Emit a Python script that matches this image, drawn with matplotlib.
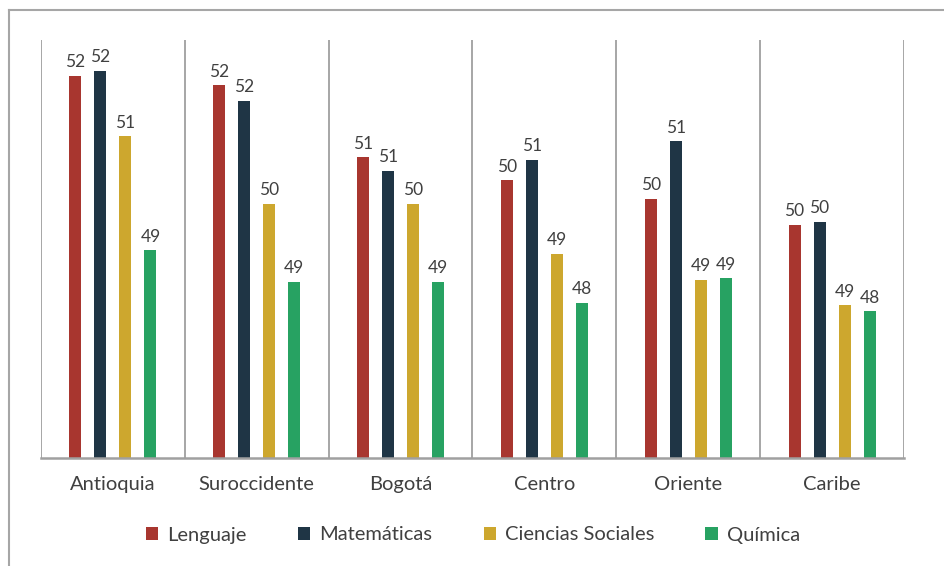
import matplotlib.pyplot as plt
from matplotlib.lines import Line2D
import numpy as np

plt.rcParams['font.family'] = ['Lato', 'DejaVu Sans']

# Datos
regiones = ['Antioquia', 'Suroccidente', 'Bogotá', 'Centro', 'Oriente', 'Caribe']
materias = ['Lenguaje', 'Matemáticas', 'Ciencias Sociales', 'Química']
colores = ['#A8362F', '#1F3545', '#CDA72E', '#27A262']

lenguaje = [52.30, 52.13, 50.82, 50.40, 50.06, 49.59]
matematicas = [52.39, 51.84, 50.57, 50.77, 51.11, 49.64]
sociales = [51.20, 49.97, 49.97, 49.06, 48.59, 48.13]
quimica = [49.13, 48.55, 48.55, 48.17, 48.62, 48.02]

# etiquetas tal como aparecen en el grafico
et_lenguaje = [52, 52, 51, 50, 50, 50]
et_matematicas = [52, 52, 51, 51, 51, 50]
et_sociales = [51, 50, 50, 49, 49, 49]
et_quimica = [49, 49, 49, 48, 49, 48]

series = [lenguaje, matematicas, sociales, quimica]
etiquetas = [et_lenguaje, et_matematicas, et_sociales, et_quimica]

fig = plt.figure(figsize=(9.45, 5.66), dpi=100)
ax = fig.add_axes([41 / 945, 108 / 566, 863 / 945, 418 / 566])

x = np.arange(len(regiones))
ancho = 0.084
desplaz = [-0.261, -0.087, 0.087, 0.261]
base = 45.35

for vals, labs, col, d, nombre in zip(series, etiquetas, colores, desplaz, materias):
    alturas = [v - base for v in vals]
    barras = ax.bar(x + d, alturas, ancho, bottom=base, color=col, label=nombre)
    for b, t in zip(barras, labs):
        ax.annotate(str(t), (b.get_x() + b.get_width() / 2, b.get_y() + b.get_height()),
                    xytext=(0, 4), textcoords='offset points', ha='center', va='bottom',
                    fontsize=12.5, color='#404040')

ax.set_xlim(-0.5, len(regiones) - 0.5)
ax.set_ylim(base, 52.95)

# lineas separadoras de categorias
for s in np.arange(-0.5, len(regiones), 1.0):
    ax.axvline(s, color='#A6A6A6', lw=1.4, zorder=0)

for lado in ['top', 'right', 'left']:
    ax.spines[lado].set_visible(False)
ax.spines['bottom'].set_color('#A0A0A0')
ax.spines['bottom'].set_linewidth(1.8)
ax.set_yticks([])
ax.set_xticks(x)
ax.set_xticklabels(regiones, fontsize=14.5, color='#404040')
ax.tick_params(axis='x', length=0, pad=13)

fig.legend(loc='center', bbox_to_anchor=(473 / 945, 1 - 535 / 566), ncol=4, frameon=False,
           fontsize=14.5, handlelength=0.6, handleheight=0.6, handletextpad=0.45,
           columnspacing=2.55, labelcolor='#404040')

# marco exterior
fig.add_artist(Line2D([9 / 945, 1], [1 - 10 / 566, 1 - 10 / 566], color='#A6A6A6', lw=1.5))
fig.add_artist(Line2D([9 / 945, 9 / 945], [0, 1 - 10 / 566], color='#A6A6A6', lw=1.5))

fig.savefig('out.png', dpi=100)
